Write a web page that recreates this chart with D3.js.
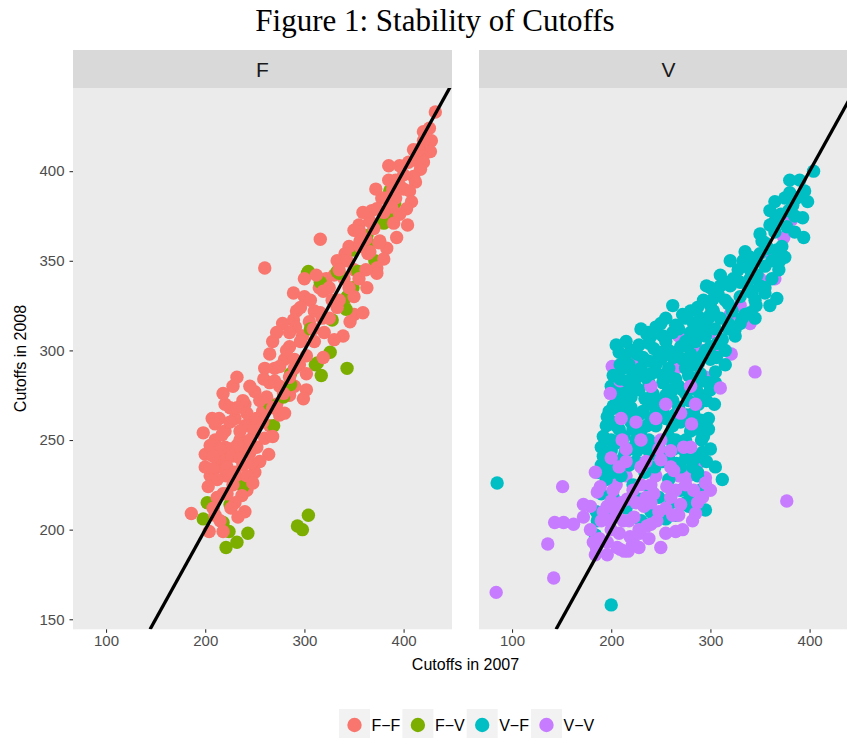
<!DOCTYPE html>
<html>
<head>
<meta charset="utf-8">
<script src="https://cdn.jsdelivr.net/npm/d3@7"></script>
<style>
  body { margin: 0; background: #ffffff; }
  svg { display: block; }
</style>
</head>
<body>
<svg id="chart" width="847" height="738"></svg>
<script>
// Facets, groups and tick values
const facets = ["F", "V"];
const groups = ["F−F", "F−V", "V−F", "V−V"];
const groupColors = ["#F8766D", "#7CAE00", "#00BFC4", "#C77CFF"];
const xTicks = [100, 200, 300, 400];
const yTicks = [150, 200, 250, 300, 350, 400];

// [cutoff 2007, cutoff 2008] per school, panel F
const ffPoints = [
  [205,230],[215,235],[225,245],[235,250],[245,260],[210,250],[220,255],[230,262],[240,270],[250,277],
  [220,270],[212,240],[226,232],[238,236],[250,232],[242,222],[200,242],[207,262],[218,276],[228,280],
  [245,280],[258,266],[265,258],[272,270],[252,246],[238,246],[222,240],[235,228],
  [270,290],[280,295],[295,292],[285,302],[298,308],[310,305],[305,316],[318,318],[328,328],[315,335],
  [300,330],[292,322],[322,340],[330,342],[340,340],[350,345],[345,358],[355,370],[362,362],[368,378],
  [378,385],[372,390],[385,395],[392,385],[400,390],[405,405],[413,406],[420,422],[422,410],[404,370],
  [366,355],[350,320],[340,325],[285,275],[290,280],[275,280],[260,290],[268,305],[278,315],[272,310],
  [432,433],[426,424],[428,417],[420,417],[427,411],[415,412],[410,412],[420,405],[417,401],[410,397],
  [412,394],[400,398],[392,395],[385,403],[396,403],[406,389],[396,392],[389,390],[408,383],[403,379],
  [383,385],[388,380],[380,377],[359,377],[396,376],[373,379],[366,372],[390,371],[393,363],[370,368],
  [350,367],[356,366],[376,361],[383,357],[356,361],[316,362],[364,354],[341,354],[356,358],[333,350],
  [343,350],[380,351],[373,346],[373,343],[375,360],[362,345],[355,340],[260,346],[335,345],[363,335],
  [345,335],[319,333],[325,335],[289,332],[306,328],[335,328],[350,330],[333,324],[296,324],[359,321],
  [316,321],[310,322],[325,318],[289,317],[346,316],[291,313],[309,312],[320,310],[285,310],[339,308],
  [330,306],[296,305],[312,342],[300,340],[282,300],[265,298],[302,297],[319,296],[290,295],[275,291],
  [290,290],[232,285],[259,284],[302,287],[285,285],[265,282],[270,283],[302,278],[279,276],[238,272],
  [255,272],[299,273],[262,274],[268,268],[275,264],[280,265],[242,265],[225,268],[232,268],[252,262],
  [214,262],[225,260],[210,259],[240,258],[258,260],[198,254],[217,253],[249,255],[260,251],[268,252],
  [235,255],[232,247],[220,246],[245,250],[205,247],[215,245],[264,242],[227,241],[208,241],[235,240],
  [245,243],[255,238],[247,237],[222,235],[208,234],[200,235],[230,232],[242,230],[221,230],[212,228],
  [228,225],[248,226],[203,224],[222,220],[218,220],[237,219],[212,218],[230,215],[226,212],[208,212],
  [240,210],[186,209],[210,208],[233,207],[215,205],[204,199],[218,199]
];
const fvPoints = [
  [386,389],[391,382],[385,376],[380,371],[363,364],[366,359],[349,356],[371,350],[304,344],[333,344],
  [354,344],[335,343],[303,343],[316,338],[349,335],[343,330],[342,323],[328,317],[306,312],[313,293],
  [326,299],[311,292],[343,290],[317,286],[286,287],[286,281],[279,274],[265,270],[269,258],[238,224],
  [202,215],[225,214],[198,206],[218,204],[304,208],[224,199],[243,198],[293,202],[298,200],[232,193],
  [221,190]
];

// Panel V
const vfPoints = [
  [187,232],[287,232],[312,228],[287,230],[195,228],[210,230],[258,228],[222,225],[240,222],[270,222],
  [290,222],[229,217],[279,220],[202,218],[248,218],[190,220],[275,215],[260,215],[230,215],[278,213],
  [215,212],[295,211],[240,210],[200,210],[185,210],[265,208],[243,206],[255,206],[230,205],[186,205],
  [184,197],[85,226],[200,158],
  [404,400],[395,389],[390,395],[398,383],[387,385],[380,388],[383,381],[375,385],[379,378],[393,374],
  [380,395],[365,383],[360,378],[385,375],
  [371,376],[365,372],[377,369],[360,370],[394,363],[385,366],[365,366],[352,361],[355,360],[372,358],
  [350,365],[335,355],[320,350],
  [358,357],[367,356],[350,354],[362,350],[375,352],[340,352],[345,350],[370,350],[333,350],[355,347],
  [369,345],[340,345],[347,342],[362,340],[327,339],[350,336],[355,335],[296,336],[338,335],[320,336],
  [328,345],[340,340],[310,342],[300,335],[315,338],
  [323,340],[310,336],[330,338],[342,332],[355,332],[308,331],[330,330],[367,329],[315,328],[345,328],
  [303,329],[293,328],[318,326],[360,325],[346,325],[287,324],[322,322],[303,322],[340,321],[335,320],
  [262,325],[280,322],[300,325],[255,318],
  [300,320],[272,320],[310,318],[298,318],[290,318],[275,318],[345,318],[283,315],[330,315],[265,314],
  [318,315],[332,318],[245,313],[250,315],[252,308],[268,312],[280,310],[295,308],
  [295,313],[285,312],[318,312],[325,312],[305,312],[230,312],[237,310],[290,310],[262,310],[236,309],
  [240,308],[325,308],[312,306],[255,305],[215,305],[285,305],[307,304],[275,305],[228,303],[270,302],
  [205,303],[214,296],[226,298],[238,294],[252,299],[266,299],[278,303],[292,297],[306,296],[238,304],
  [300,302],[243,301],[220,300],[258,300],[208,299],[295,300],[315,300],[280,298],[248,297],[232,296],
  [218,292],[282,292],[202,286],[212,280],[226,285],[240,287],[252,286],[265,284],[278,286],[292,283],
  [262,296],[300,295],[250,295],[272,295],[288,293],[209,292],[315,292],[245,292],[230,290],[212,290],
  [305,282],[200,280],[220,274],[234,273],[248,272],[262,272],[275,276],[288,270],[296,272],[209,272],
  [275,290],[258,290],[290,287],[245,288],[222,287],[260,285],[305,288],[235,285],[209,284],[216,283],
  [298,282],[283,282],[252,282],[238,282],[224,280],[268,280],[228,278],[258,278],[272,278],[286,278],
  [195,258],[208,256],[216,266],[228,264],[240,262],[252,266],[264,264],[276,264],[288,256],[298,256],
  [300,278],[215,278],[262,278],[242,276],[205,275],[290,275],[255,275],[215,272],[278,272],[304,270],
  [240,270],[205,270],[220,268],[268,268],[202,269],[210,266],[232,266],[283,265],[245,265],[196,263],
  [255,262],[198,266],[220,260],
  [298,262],[218,262],[290,261],[270,260],[202,260],[205,258],[245,258],[262,258],[236,258],[222,256],
  [230,255],[280,255],[192,252],[293,252],[258,252],[213,252],[291,250],[208,250],[238,250],[265,250],
  [190,246],[204,248],[214,243],[236,245],[252,243],[262,248],[278,244],[292,243],
  [200,250],[225,250],[275,250],[248,248],[263,245],[245,245],[300,245],[200,244],[198,243],[226,244],
  [218,245],[192,241],[230,246],[212,240],[240,242],[272,245],[285,240],[258,240],[225,238],[252,238],
  [190,236],[202,232],[234,232],[282,235],[296,238],[218,236],
  [275,240],[266,237],[205,236],[244,235],[305,235],[270,235],[195,235]
];
const vvPoints = [
  [382,373],[295,229],[290,238],  [374,363],[278,230],[268,230],  [362,352],[245,230],[215,230],
  [333,347],[195,230],[205,225],  [350,340],[295,226],[151,224],  [365,340],[256,224],[189,224],
  [339,333],[240,225],[275,225],  [330,325],[230,225],[202,222],  [320,320],[283,222],[186,221],
  [340,315],[222,222],[243,220],  [300,310],[265,222],[300,222],  [268,308],[260,218],[292,218],
  [310,300],[216,217],[235,218],  [290,300],[200,216],[377,216],  [255,300],[287,215],[225,215],
  [321,298],[172,214],[270,214],  [225,295],[179,213],[196,213],  [201,291],[233,213],[210,215],
  [265,290],[240,215],[248,210],  [345,288],[205,210],[192,210],  [295,285],[285,209],[268,208],
  [209,283],[255,212],[262,208],  [240,280],[172,207],[223,207],  [280,280],[212,205],[190,205],
  [310,279],[198,205],[218,205],  [199,276],[246,205],[143,204],  [255,270],[152,204],[162,203],
  [285,270],[236,202],[282,205],  [270,265],[240,203],[200,200],  [245,262],[179,200],[228,200],
  [210,262],[265,199],[255,198],  [225,260],[208,198],[272,200],  [281,259],[229,198],[219,196],
  [230,250],[188,195],[238,195],
  [250,250],[196,193],  [211,250],[182,193],  [280,246],[136,192],  [273,246],[223,192],
  [215,245],[221,191],  [260,244],[206,190],  [200,240],[250,190],  [250,239],[228,190],
  [235,238],[209,189],  [184,232],[213,188],  [208,235],[217,188],  [263,233],[184,186],
  [230,235],[196,186],  [215,238],[185,190],  [248,245],[142,173],  [260,235],[84,165]
];

// Layout
const stripTop = 50, panelTop = 88, panelBottom = 629.3;
const panelX = [[73, 452], [479, 858]];
const svg = d3.select("#chart");

// Title
svg.append("text")
  .attr("x", 435).attr("y", 31)
  .attr("text-anchor", "middle")
  .attr("font-family", "'Liberation Serif', 'DejaVu Serif', serif")
  .attr("font-size", 31)
  .attr("fill", "#000")
  .text("Figure 1: Stability of Cutoffs");

const y = d3.scaleLinear().domain([144.4, 446.4]).range([panelBottom, panelTop]);

// Combine two groups into one draw sequence, interleaving by row position
function drawOrder(a, ga, b, gb) {
  const rows = a.map((d, i) => ({x: d[0], y: d[1], g: ga, k: (i + 0.5) / a.length}))
    .concat(b.map((d, i) => ({x: d[0], y: d[1], g: gb, k: (i + 0.5) / b.length})));
  return rows.sort((p, q) => p.k - q.k);
}
// V−F rows are laid down from the lowest 2008 cutoff upward
const vfRows = vfPoints.slice().sort((p, q) => p[1] - q[1]);
const panelData = [drawOrder(ffPoints, 0, fvPoints, 1), drawOrder(vfRows, 2, vvPoints, 3)];

const sans = "'Liberation Sans', Arial, sans-serif";

facets.forEach((f, pi) => {
  const [x0, x1] = panelX[pi];
  const x = d3.scaleLinear().domain([66.7, 448.8]).range([x0, x1]);

  // strip
  svg.append("rect").attr("x", x0).attr("y", stripTop)
    .attr("width", x1 - x0).attr("height", panelTop - stripTop).attr("fill", "#D9D9D9");
  svg.append("text").attr("x", (x0 + x1) / 2).attr("y", 77)
    .attr("text-anchor", "middle")
    .attr("font-family", sans)
    .attr("font-size", 21).attr("fill", "#1A1A1A").text(f);

  // panel background
  svg.append("rect").attr("x", x0).attr("y", panelTop)
    .attr("width", x1 - x0).attr("height", panelBottom - panelTop).attr("fill", "#EBEBEB");

  const clipId = "clip" + pi;
  svg.append("clipPath").attr("id", clipId).append("rect")
    .attr("x", x0).attr("y", panelTop).attr("width", x1 - x0).attr("height", panelBottom - panelTop);
  const g = svg.append("g").attr("clip-path", `url(#${clipId})`);

  g.selectAll("circle").data(panelData[pi]).join("circle")
    .attr("cx", d => x(d.x)).attr("cy", d => y(d.y)).attr("r", 6.7)
    .attr("fill", d => groupColors[d.g]);

  // 45-degree reference line
  const lo = 144.4, hi = 448.8;
  g.append("line")
    .attr("x1", x(lo)).attr("y1", y(lo)).attr("x2", x(hi)).attr("y2", y(hi))
    .attr("stroke", "#000").attr("stroke-width", 3.3);

  // x axis
  const xa = svg.append("g").attr("transform", `translate(0,${panelBottom})`)
    .call(d3.axisBottom(x).tickValues(xTicks).tickSize(3.5).tickPadding(3).tickFormat(d3.format("d")));
  xa.select(".domain").remove();
  xa.selectAll("line").attr("stroke", "#333333").attr("stroke-width", 1.1);
  xa.selectAll("text").attr("fill", "#4D4D4D").attr("font-size", 15).attr("font-family", sans);

  if (pi === 0) {
    const ya = svg.append("g").attr("transform", `translate(${x0},0)`)
      .call(d3.axisLeft(y).tickValues(yTicks).tickSize(3.5).tickPadding(5).tickFormat(d3.format("d")));
    ya.select(".domain").remove();
    ya.selectAll("line").attr("stroke", "#333333").attr("stroke-width", 1.1);
    ya.selectAll("text").attr("fill", "#4D4D4D").attr("font-size", 15).attr("font-family", sans);
  }
});

// axis titles
svg.append("text").attr("x", 465.5).attr("y", 670)
  .attr("text-anchor", "middle")
  .attr("font-family", sans)
  .attr("font-size", 16).attr("fill", "#000").text("Cutoffs in 2007");
svg.append("text")
  .attr("transform", "translate(26,358.5) rotate(-90)")
  .attr("text-anchor", "middle")
  .attr("font-family", sans)
  .attr("font-size", 16).attr("fill", "#000").text("Cutoffs in 2008");

// legend
let lx = 339;
const key = 31, ly = 709;
groups.forEach((name, i) => {
  svg.append("rect").attr("x", lx).attr("y", ly).attr("width", key).attr("height", key).attr("fill", "#F2F2F2");
  svg.append("circle").attr("cx", lx + key / 2).attr("cy", ly + key / 2 + 0.5).attr("r", 7.2).attr("fill", groupColors[i]);
  const t = svg.append("text").attr("x", lx + key + 1.5).attr("y", ly + key / 2 + 6)
    .attr("font-family", sans)
    .attr("font-size", 16).attr("fill", "#000").text(name);
  lx += key + 1.5 + t.node().getComputedTextLength() + 2;
});
</script>
</body>
</html>
